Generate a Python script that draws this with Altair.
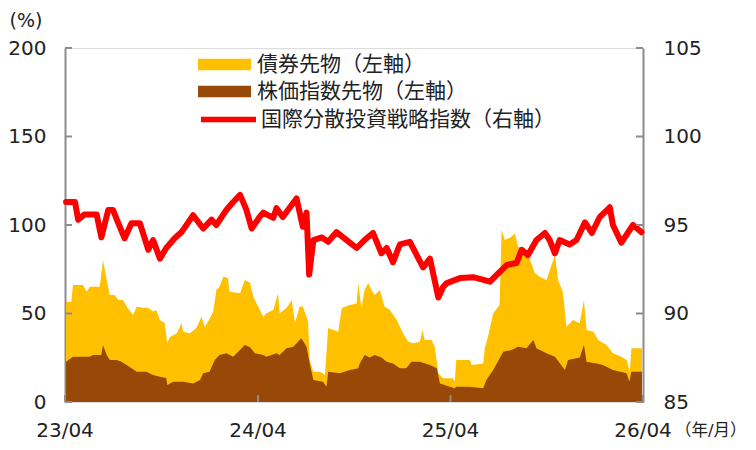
import altair as alt
import pandas as pd

FONT = "DejaVu Sans, Noto Sans CJK JP, sans-serif"
TXT = "#222222"
AX = "#8c8c8c"

BOND = "債券先物（左軸）"
STOCK = "株価指数先物（左軸）"
IDX = "国際分散投資戦略指数（右軸）"

# 債券先物 + 株価指数先物 (stacked top, left axis %)
total_dates = [
    "2023-04-03", "2023-04-13", "2023-04-16", "2023-05-05", "2023-05-12", "2023-05-18",
    "2023-06-06", "2023-06-12", "2023-06-19", "2023-06-25", "2023-07-04", "2023-07-11",
    "2023-07-20", "2023-07-27", "2023-08-08", "2023-08-15", "2023-08-27", "2023-09-06",
    "2023-09-15", "2023-09-21", "2023-09-28", "2023-10-07", "2023-10-12", "2023-10-17",
    "2023-10-30", "2023-11-08", "2023-11-11", "2023-11-24", "2023-12-06", "2023-12-16",
    "2023-12-22", "2023-12-28", "2024-01-07", "2024-01-13", "2024-01-19", "2024-01-26",
    "2024-02-04", "2024-02-07", "2024-02-27", "2024-03-07", "2024-03-17", "2024-03-23",
    "2024-04-11", "2024-04-17", "2024-04-30", "2024-05-09", "2024-05-12", "2024-05-25",
    "2024-06-04", "2024-06-10", "2024-06-19", "2024-06-25", "2024-07-05", "2024-07-08",
    "2024-07-15", "2024-07-28", "2024-08-06", "2024-08-12", "2024-08-31", "2024-09-07",
    "2024-09-22", "2024-10-05", "2024-10-08", "2024-10-14", "2024-10-20", "2024-10-27",
    "2024-11-02", "2024-11-08", "2024-11-18", "2024-11-27", "2024-12-07", "2024-12-20",
    "2025-01-01", "2025-01-11", "2025-01-20", "2025-02-02", "2025-02-07", "2025-02-11",
    "2025-02-24", "2025-03-02", "2025-03-09", "2025-03-18", "2025-04-06", "2025-04-09",
    "2025-04-12", "2025-05-08", "2025-05-11", "2025-06-02", "2025-06-05", "2025-06-11",
    "2025-06-21", "2025-07-03", "2025-07-07", "2025-07-13", "2025-07-26", "2025-08-01",
    "2025-08-07", "2025-08-23", "2025-09-08", "2025-09-17", "2025-09-30", "2025-10-16",
    "2025-10-22", "2025-10-31", "2025-11-07", "2025-11-19", "2025-12-02", "2025-12-10",
    "2025-12-15", "2025-12-28", "2026-01-06", "2026-01-22", "2026-02-03", "2026-02-19",
    "2026-03-01", "2026-03-07", "2026-03-10", "2026-03-30",
]
total_values = [
    56.7, 56.7, 66.1, 66.1, 62.3, 65.1,
    65.1, 80.2, 68.9, 60.5, 60.5, 57.6,
    57.6, 53.9, 49.2, 53.9, 53.1, 53.1,
    51.2, 52.0, 46.3, 44.6, 33.3, 36.7,
    38.9, 44.6, 39.7, 38.9, 41.8, 48.2,
    42.4, 45.4, 51.0, 63.3, 65.1, 70.8,
    70.0, 62.3, 61.5, 68.9, 67.2, 59.5,
    48.2, 50.2, 52.0, 61.5, 50.2, 53.1,
    57.6, 44.6, 53.9, 53.9, 45.4, 23.7,
    17.1, 17.1, 15.3, 41.8, 39.7, 53.1,
    54.8, 55.7, 67.2, 53.1, 63.3, 67.2,
    63.3, 60.5, 63.3, 53.9, 52.0, 46.3,
    38.9, 34.1, 33.2, 34.1, 40.7, 35.0,
    35.0, 31.2, 16.2, 13.4, 13.4, 11.5,
    23.7, 23.7, 20.9, 21.8, 30.3, 36.9,
    50.1, 54.8, 97.2, 91.5, 93.4, 95.3,
    87.7, 85.9, 72.7, 70.8, 68.9, 83.0,
    68.9, 62.3, 42.5, 46.3, 44.5, 57.6,
    40.7, 39.7, 35.0, 32.2, 27.5, 25.6,
    23.7, 17.1, 30.3, 30.3,
]

# 株価指数先物 (left axis %)
stock_dates = [
    "2023-04-03", "2023-04-16", "2023-05-18", "2023-05-24", "2023-06-09", "2023-06-12",
    "2023-06-19", "2023-06-25", "2023-07-08", "2023-07-17", "2023-07-27", "2023-08-15",
    "2023-09-02", "2023-09-15", "2023-09-28", "2023-10-10", "2023-10-12", "2023-10-23",
    "2023-11-11", "2023-11-30", "2023-12-13", "2023-12-19", "2023-12-31", "2024-01-10",
    "2024-01-19", "2024-02-01", "2024-02-14", "2024-03-07", "2024-03-17", "2024-03-26",
    "2024-04-11", "2024-04-17", "2024-05-06", "2024-05-12", "2024-05-25", "2024-06-07",
    "2024-06-22", "2024-07-02", "2024-07-08", "2024-07-15", "2024-08-02", "2024-08-09",
    "2024-08-12", "2024-09-03", "2024-09-22", "2024-10-08", "2024-10-11", "2024-10-20",
    "2024-10-30", "2024-11-08", "2024-11-21", "2024-12-01", "2024-12-13", "2024-12-26",
    "2025-01-07", "2025-01-17", "2025-02-02", "2025-02-21", "2025-03-06", "2025-03-12",
    "2025-03-31", "2025-04-09", "2025-04-12", "2025-05-08", "2025-06-02", "2025-06-08",
    "2025-06-21", "2025-07-10", "2025-07-26", "2025-08-07", "2025-08-23", "2025-09-05",
    "2025-09-11", "2025-09-30", "2025-10-16", "2025-11-04", "2025-11-10", "2025-12-02",
    "2025-12-10", "2025-12-15", "2026-01-03", "2026-01-15", "2026-02-03", "2026-03-01",
    "2026-03-06", "2026-03-10", "2026-03-30",
]
stock_values = [
    22.8, 25.6, 25.6, 26.6, 26.6, 32.2,
    26.6, 23.7, 23.7, 22.8, 20.9, 17.1,
    17.1, 15.3, 14.3, 13.5, 9.6, 11.5,
    11.5, 10.5, 12.4, 16.2, 17.1, 23.7,
    26.6, 27.5, 25.6, 32.2, 31.0, 27.5,
    26.6, 25.6, 27.5, 26.6, 30.3, 31.2,
    36.0, 31.2, 21.8, 12.4, 11.5, 8.6,
    17.1, 16.2, 18.1, 19.0, 21.8, 26.6,
    25.1, 26.6, 25.1, 22.8, 21.8, 19.0,
    19.0, 22.8, 22.8, 20.9, 19.0, 10.5,
    8.6, 7.7, 8.6, 8.6, 7.7, 12.4,
    18.1, 28.4, 29.4, 31.2, 30.3, 35.0,
    30.3, 27.5, 25.6, 18.1, 23.7, 25.1,
    32.2, 22.8, 21.8, 20.9, 18.1, 16.2,
    11.5, 17.1, 17.1,
]

# 国際分散投資戦略指数 (right axis)
index_dates = [
    "2023-04-03", "2023-04-20", "2023-04-26", "2023-05-08", "2023-05-31", "2023-06-09",
    "2023-06-22", "2023-07-01", "2023-07-11", "2023-07-23", "2023-08-05", "2023-08-21",
    "2023-09-06", "2023-09-15", "2023-09-28", "2023-10-10", "2023-10-26", "2023-11-08",
    "2023-11-30", "2023-12-19", "2024-01-04", "2024-01-13", "2024-02-01", "2024-02-14",
    "2024-02-27", "2024-03-10", "2024-03-20", "2024-04-04", "2024-04-11", "2024-04-30",
    "2024-05-06", "2024-05-18", "2024-06-13", "2024-06-25", "2024-07-02", "2024-07-07",
    "2024-07-15", "2024-07-31", "2024-08-12", "2024-08-28", "2024-09-16", "2024-10-05",
    "2024-10-20", "2024-11-05", "2024-11-21", "2024-12-01", "2024-12-13", "2024-12-26",
    "2025-01-14", "2025-02-08", "2025-02-21", "2025-03-09", "2025-03-18", "2025-03-24",
    "2025-04-19", "2025-05-14", "2025-06-15", "2025-06-28", "2025-07-17", "2025-08-04",
    "2025-08-14", "2025-08-26", "2025-09-11", "2025-09-27", "2025-10-06", "2025-10-16",
    "2025-10-25", "2025-11-13", "2025-11-26", "2025-12-12", "2025-12-25", "2026-01-09",
    "2026-01-28", "2026-02-03", "2026-02-19", "2026-03-13", "2026-03-29",
]
index_values = [
    96.3, 96.3, 95.3, 95.6, 95.6, 94.3,
    95.85, 95.85, 95.1, 94.25, 95.1, 95.1,
    93.6, 94.15, 93.1, 93.7, 94.25, 94.6,
    95.55, 94.8, 95.3, 95.0, 95.85, 96.3,
    96.7, 95.85, 94.8, 95.45, 95.7, 95.4,
    95.95, 95.45, 96.5, 94.9, 95.7, 92.2,
    94.15, 94.3, 94.05, 94.6, 94.15, 93.7,
    94.15, 94.55, 93.4, 93.7, 92.9, 93.9,
    94.05, 92.6, 93.1, 90.9, 91.5, 91.7,
    92.0, 92.05, 91.8, 92.2, 92.75, 92.85,
    93.6, 93.3, 94.15, 94.55, 94.15, 93.4,
    94.15, 93.9, 94.15, 95.15, 94.55, 95.45,
    96.0, 95.0, 94.0, 95.0, 94.6,
]

left_ticks = [0, 50, 100, 150, 200]
right_ticks = [85, 90, 95, 100, 105]
x_tick_dates = ["2023-04-01", "2024-04-01", "2025-04-01", "2026-04-01"]
x_unit_label = ["（年/月）"]

W, H = 578, 354

total_df = pd.DataFrame({"date": total_dates, "value": total_values, "series": BOND})
stock_df = pd.DataFrame({"date": stock_dates, "value": stock_values, "series": STOCK})
index_df = pd.DataFrame({"date": index_dates, "value": index_values, "series": IDX})
xtick_df = pd.DataFrame({"d": x_tick_dates})

x_scale = alt.Scale(domain=["2023-04-01", "2026-04-01"])
yl_scale = alt.Scale(domain=[0, 200], nice=False, zero=True)
yr_scale = alt.Scale(domain=[85, 105], nice=False, zero=False)

x_axis = alt.Axis(
    tickCount=3, ticks=False, tickSize=0, grid=False, labels=False,
    domainColor=AX, domainWidth=2, title=None,
)
yl_axis = alt.Axis(
    values=left_ticks, orient="left", ticks=False, tickSize=0, grid=False,
    labelPadding=19, labelFontSize=20, labelFont=FONT, labelColor=TXT,
    domainColor=AX, domainWidth=2,
    title="(%)", titleAngle=0, titleX=-56, titleY=-28, titleAlign="left",
    titleBaseline="middle", titleFontSize=19, titleFont=FONT,
    titleFontWeight="normal", titleColor=TXT,
)
yr_axis = alt.Axis(
    values=right_ticks, orient="right", ticks=False, tickSize=0, grid=False,
    labelPadding=20, labelFontSize=20, labelFont=FONT, labelColor=TXT,
    domainColor=AX, domainWidth=2, title=None,
)

rect_sym = "M-1,-0.22L1,-0.22L1,0.22L-1,0.22Z"

def box_legend(y):
    return alt.Legend(
        orient="none", legendX=133, legendY=y, title=None, padding=0,
        symbolType=rect_sym, symbolSize=2809, symbolStrokeWidth=0,
        symbolOpacity=1, labelFontSize=21, labelFont=FONT, labelColor=TXT,
        labelOffset=6, labelLimit=400,
    )

yellow = alt.Chart(total_df).mark_area(interpolate="linear", opacity=1).encode(
    x=alt.X("date:T", scale=x_scale, axis=x_axis),
    y=alt.Y("value:Q", scale=yl_scale, axis=yl_axis),
    color=alt.Color("series:N", scale=alt.Scale(domain=[BOND], range=["#FFC000"]),
                    legend=box_legend(-10)),
)
brown = alt.Chart(stock_df).mark_area(interpolate="linear", opacity=1).encode(
    x=alt.X("date:T", scale=x_scale, axis=None),
    y=alt.Y("value:Q", scale=yl_scale, axis=None),
    fill=alt.Fill("series:N", scale=alt.Scale(domain=[STOCK], range=["#984807"]),
                  legend=box_legend(17)),
)
lt = alt.Chart(pd.DataFrame({"v": left_ticks})).mark_rule(color=AX, strokeWidth=2).encode(
    y=alt.Y("v:Q", scale=yl_scale, axis=None), x=alt.value(0), x2=alt.value(7),
)
bt = alt.Chart(xtick_df).mark_rule(color=AX, strokeWidth=2).encode(
    x=alt.X("d:T", scale=x_scale, axis=None), y=alt.value(H), y2=alt.value(H - 7),
)
# x-axis tick labels, placed through the x scale
xlab = alt.Chart(xtick_df).mark_text(
    font=FONT, fontSize=20, color=TXT, baseline="alphabetic", align="center",
).encode(
    x=alt.X("d:T", scale=x_scale, axis=None),
    y=alt.value(H + 35),
    text=alt.Text("d:T", format="%y/%m"),
)
xtitle = alt.Chart(pd.DataFrame({"t": x_unit_label})).mark_text(
    font=FONT, fontSize=16.5, color=TXT, baseline="alphabetic", align="left",
).encode(x=alt.value(W + 32), y=alt.value(H + 34), text="t:N")

line = alt.Chart(index_df).mark_line(strokeWidth=6, strokeCap="round", strokeJoin="round").encode(
    x=alt.X("date:T", scale=x_scale, axis=None),
    y=alt.Y("value:Q", scale=yr_scale, axis=yr_axis),
    stroke=alt.Stroke("series:N", scale=alt.Scale(domain=[IDX], range=["#FF0000"]),
                      legend=alt.Legend(
                          orient="none", legendX=133, legendY=41, title=None, padding=0,
                          symbolType="stroke", symbolSize=3025, symbolStrokeWidth=5.5,
                          labelFontSize=21, labelFont=FONT, labelColor=TXT,
                          labelOffset=2, labelLimit=400)),
)
rt = alt.Chart(pd.DataFrame({"v": right_ticks})).mark_rule(color=AX, strokeWidth=2).encode(
    y=alt.Y("v:Q", scale=yr_scale, axis=None), x=alt.value(W), x2=alt.value(W - 7),
)

chart = alt.layer(yellow, brown, lt, bt, xlab, xtitle, line, rt).resolve_scale(
    y="independent"
).properties(
    width=W, height=H,
    autosize=alt.AutoSizeParams(type="none"),
    padding={"left": 57, "top": 40, "right": 105, "bottom": 40},
).configure_view(strokeWidth=0).configure(background="white")

chart.save("out.html", embed_options={"renderer": "svg", "actions": False})
